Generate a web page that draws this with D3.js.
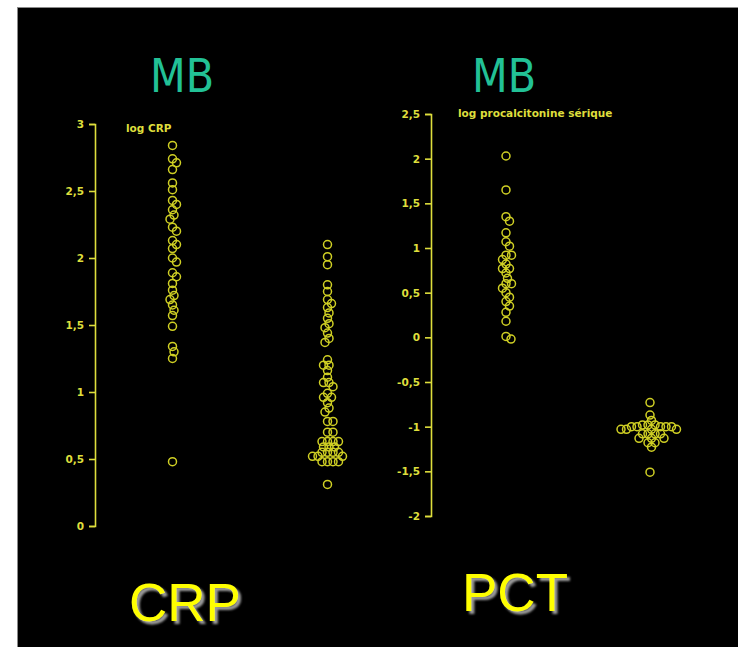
<!DOCTYPE html>
<html>
<head>
<meta charset="utf-8">
<script src="https://cdn.jsdelivr.net/npm/d3@7"></script>
<style>
  html, body { margin: 0; padding: 0; background: #fff; }
  svg { display: block; }
</style>
</head>
<body>
<svg width="738" height="647"></svg>
<script>
// groups on each panel (MB = bacterial meningitis, MV = the other group)
var groups = ["MB", "MV"];

// log CRP values
var crpMB = [2.84, 2.74, 2.71, 2.66, 2.56, 2.51, 2.43, 2.40, 2.36, 2.32, 2.29, 2.23, 2.20,
  2.13, 2.10, 2.07, 2.00, 1.97, 1.89, 1.86, 1.81, 1.76, 1.72, 1.69, 1.65, 1.61, 1.57,
  1.49, 1.34, 1.30, 1.25, 0.48];
var crpMV = [2.10, 2.01, 1.95, 1.80, 1.75, 1.69, 1.66, 1.63, 1.59, 1.55, 1.51, 1.48, 1.44,
  1.40, 1.37, 1.24, 1.20, 1.20, 1.16, 1.11, 1.07, 1.07, 1.04, 0.99, 0.96, 0.96, 0.92,
  0.88, 0.85, 0.78, 0.78, 0.70, 0.70, 0.63, 0.63, 0.63, 0.63, 0.59, 0.59, 0.59, 0.55,
  0.55, 0.55, 0.55, 0.52, 0.52, 0.52, 0.48, 0.48, 0.48, 0.48, 0.31];

// log procalcitonine values
var pctMB = [2.03, 1.65, 1.35, 1.30, 1.17, 1.07, 1.02, 0.92, 0.92, 0.87, 0.82, 0.77, 0.77,
  0.72, 0.66, 0.60, 0.60, 0.55, 0.50, 0.45, 0.40, 0.35, 0.28, 0.18, 0.01, -0.02];
var pctMV = [-0.73, -0.87, -0.93, -0.98, -0.98, -0.98, -1.00, -1.00, -1.00, -1.00, -1.00,
  -1.03, -1.03, -1.03, -1.03, -1.08, -1.08, -1.08, -1.08, -1.13, -1.13, -1.13, -1.18,
  -1.18, -1.23, -1.51];

var crpTicks = [0, 0.5, 1, 1.5, 2, 2.5, 3];
var pctTicks = [-2, -1.5, -1, -0.5, 0, 0.5, 1, 1.5, 2, 2.5];

var svg = d3.select("svg");

var yellow = "#dede3c",
    dotColor = "#cfcf24",
    teal = "#22c196";

// french decimal comma
var fr = d3.formatLocale({decimal: ",", thousands: " ", grouping: [3], currency: ["", " €"], minus: "-"});
var fmt = fr.format("~g");

var defs = svg.append("defs");
var f = defs.append("filter").attr("id", "shadow")
    .attr("x", "-10%").attr("y", "-10%").attr("width", "130%").attr("height", "140%");
f.append("feDropShadow")
    .attr("dx", 3).attr("dy", 3).attr("stdDeviation", 1.3)
    .attr("flood-color", "#9a9a9a").attr("flood-opacity", 1);

// black slide
svg.append("rect")
    .attr("x", 17.5).attr("y", 7.5)
    .attr("width", 730).attr("height", 650)
    .attr("fill", "#000")
    .attr("stroke", "#8a8a8a");

// simple beeswarm: keep points in their column, push sideways when they collide
function swarm(values, y, cx, d) {
  var placed = [];
  var sorted = values.slice().sort(function(a, b) { return b - a; });
  sorted.forEach(function(v) {
    var py = y(v), dx = 0, step = 0;
    while (true) {
      var ok = placed.every(function(p) {
        var ddx = p.x - (cx + dx), ddy = p.y - py;
        return ddx * ddx + ddy * ddy >= d * d;
      });
      if (ok) break;
      step++;
      dx = (step % 2 ? 1 : -1) * Math.ceil(step / 2) * 0.5;
    }
    placed.push({x: cx + dx, y: py, v: v});
  });
  return placed;
}

var panels = [
  {
    series: [crpMB, crpMV],
    ticks: crpTicks,
    y: d3.scaleLinear().domain([0, 3]).range([526, 124]),
    x: d3.scalePoint().domain(groups).range([95, 405]).padding(0.5),
    axisX: 95,
    label: "log CRP", labelX: 126, labelY: 132,
    title: "MB", titleX: 182,
    name: "CRP", nameX: 185, nameY: 621
  },
  {
    series: [pctMB, pctMV],
    ticks: pctTicks,
    y: d3.scaleLinear().domain([-2, 2.5]).range([516, 114]),
    x: d3.scalePoint().domain(groups).range([434, 722]).padding(0.5),
    axisX: 431,
    label: "log procalcitonine sérique", labelX: 458, labelY: 117,
    title: "MB", titleX: 504,
    name: "PCT", nameX: 515, nameY: 611
  }
];

panels.forEach(function(p) {
  var g = svg.append("g");

  // axis
  var ax = g.append("g")
      .attr("transform", "translate(" + p.axisX + ",0)")
      .call(d3.axisLeft(p.y).tickValues(p.ticks).tickFormat(fmt).tickSize(6).tickPadding(5));
  ax.selectAll("path, line").attr("stroke", yellow).attr("stroke-width", 1.6);
  ax.selectAll("text")
      .attr("fill", yellow)
      .attr("font-family", "DejaVu Sans, sans-serif")
      .attr("font-weight", "bold")
      .attr("font-size", 10.5);

  g.append("text")
      .attr("x", p.labelX).attr("y", p.labelY)
      .attr("fill", yellow)
      .attr("font-family", "DejaVu Sans, sans-serif")
      .attr("font-weight", "bold")
      .attr("font-size", 10.5)
      .text(p.label);

  // dots
  p.series.forEach(function(vals, i) {
    var pts = swarm(vals, p.y, p.x(groups[i]), 5.5);
    g.append("g").selectAll("circle")
      .data(pts)
      .enter().append("circle")
        .attr("cx", function(d) { return d.x; })
        .attr("cy", function(d) { return d.y; })
        .attr("r", 4)
        .attr("fill", "none")
        .attr("stroke", dotColor)
        .attr("stroke-width", 1.5);
  });

  // titles
  svg.append("text")
      .attr("x", p.titleX).attr("y", 92)
      .attr("text-anchor", "middle")
      .attr("fill", teal)
      .attr("font-family", "DejaVu Sans Condensed, DejaVu Sans, sans-serif")
      .attr("font-size", 46)
      .text(p.title);

  svg.append("text")
      .attr("x", p.nameX).attr("y", p.nameY)
      .attr("text-anchor", "middle")
      .attr("fill", "#ffff00")
      .attr("font-family", "Liberation Sans, Arial, sans-serif")
      .attr("font-size", 53)
      .attr("filter", "url(#shadow)")
      .text(p.name);
});
</script>
</body>
</html>
